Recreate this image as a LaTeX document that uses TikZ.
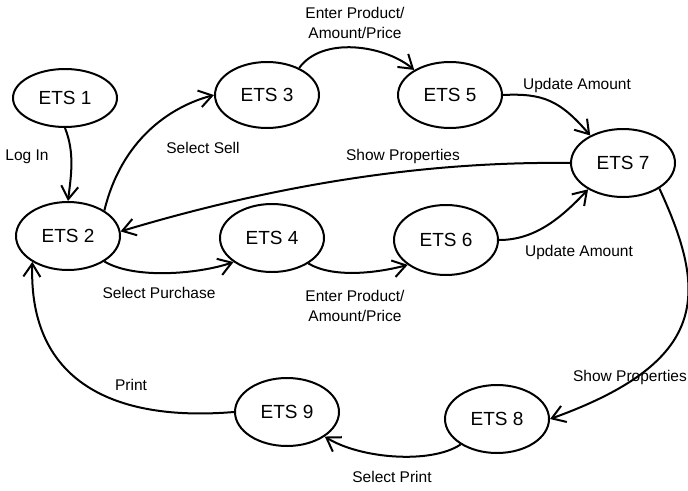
\documentclass[tikz,border=0pt]{standalone}
\usepackage{fontspec}
\setmainfont{Liberation Sans}
\usetikzlibrary{shapes.geometric,arrows.meta}
\tikzset{
  state/.style={ellipse, draw, line width=2pt, minimum width=104pt, minimum height=68pt,
                inner sep=0pt, font=\fontsize{19}{23}\selectfont},
  lbl/.style={font=\fontsize{15.5}{20}\selectfont, align=center, inner sep=0pt},
  trans/.style={line width=2pt, -{Straight Barb[length=13pt,width=17pt,line width=2pt]}}
}
\begin{document}
\begin{tikzpicture}[x=1pt,y=-1pt]
\useasboundingbox (0,0) rectangle (688,490);

% states
\node[state, minimum height=58pt] (e1) at (65,98)  {ETS 1};
\node[state] (e2) at (68,236)  {ETS 2};
\node[state, minimum height=66pt] (e3) at (267,95)  {ETS 3};
\node[state] (e4) at (272,238) {ETS 4};
\node[state, minimum height=66pt] (e5) at (450,95)  {ETS 5};
\node[state, minimum height=70pt] (e6) at (446,240) {ETS 6};
\node[state] (e7) at (623,163) {ETS 7};
\node[state] (e8) at (497,419) {ETS 8};
\node[state] (e9) at (287,412) {ETS 9};

% transitions
\draw[trans] (e1.south) .. controls +(10,25) and +(3,-25) .. (e2.north);
\draw[trans] (e2.35) .. controls +(17,-70) and +(-45,12) .. (e3.west);
\draw[trans] (e3.40) .. controls +(23,-32) and +(-30,-25) .. (e5.145);
\draw[trans] (e5.east) .. controls +(40,-2) and +(-30,-35) .. (e7.140);
\draw[trans] (e7.west) .. controls +(-150,-2) and +(150,-45) .. (e2.5);
\draw[trans] (e2.-35) .. controls +(30,18) and +(-35,12) .. (e4.212);
\draw[trans] (e4.-35) .. controls +(25,15) and +(-30,8) .. (e6.213);
\draw[trans] (e6.east) .. controls +(35,0) and +(-28,30) .. (e7.217);
\draw[trans] (e7.-35) .. controls +(48,104) and +(161,-58) .. (e8.east);
\draw[trans] (e8.215) .. controls +(-30,20) and +(35,22) .. (e9.-33);
\draw[trans] (e9.west) .. controls +(-120,10) and +(-4,120) .. (e2.216);

% labels
\node[lbl] (l1)  at (27,157)  {Log In};
\node[lbl] (l2)  at (203,148) {Select Sell};
\node[lbl] (l3)  at (355,23)  {Enter Product/\\Amount/Price};
\node[lbl] (l4)  at (577,85)  {Update Amount};
\node[lbl] (l5)  at (403,156) {Show Properties};
\node[lbl] (l6)  at (159,293) {Select Purchase};
\node[lbl] (l7)  at (355,306) {Enter Product/\\Amount/Price};
\node[lbl] (l8)  at (579,252) {Update Amount};
\node[lbl] (l9)  at (630,377) {Show Properties};
\node[lbl] (l10) at (392,477) {Select Print};
\node[lbl] (l11) at (131,385) {Print};
\end{tikzpicture}
\end{document}
